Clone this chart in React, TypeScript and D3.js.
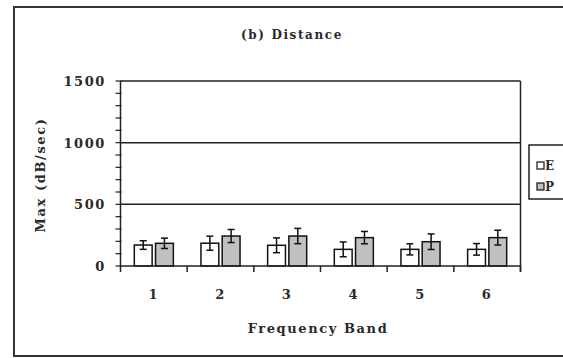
import React from 'react';
import * as d3 from 'd3';

const bands = ['1', '2', '3', '4', '5', '6'];
const seriesKeys = ['E', 'P'];
const eValues = [170, 185, 168, 135, 135, 135];
const eErrors = [35, 57, 60, 60, 45, 47];
const pValues = [184, 243, 243, 230, 197, 230];
const pErrors = [42, 53, 62, 50, 63, 60];
const yTicks = [0, 500, 1000, 1500];
const yMinorTicks = d3.range(0, 1501, 100);

const seriesColors: Record<string, string> = { E: '#ffffff', P: '#c0c0c0' };
const FONT = '"DejaVu Serif", "Liberation Serif", serif';

const W = 563;
const H = 358;
const plot = { left: 120.5, right: 520.5, top: 81, bottom: 266 };

export default function App() {
  const x0 = d3
    .scaleBand<string>()
    .domain(bands)
    .range([plot.left, plot.right])
    .paddingInner(0.414)
    .paddingOuter(0.207);
  const x1 = d3
    .scaleBand<string>()
    .domain(seriesKeys)
    .range([0, x0.bandwidth()])
    .paddingInner(0.16);
  const y = d3.scaleLinear().domain([0, 1500]).range([plot.bottom, plot.top]);

  const step = x0.step();
  const boundaries = d3.range(bands.length + 1).map(i => plot.left + i * step);

  const rows = bands.map((b, i) => ({
    band: b,
    items: [
      { key: 'E', value: eValues[i], err: eErrors[i] },
      { key: 'P', value: pValues[i], err: pErrors[i] },
    ],
  }));

  const textStyle = {
    fontFamily: FONT,
    fontSize: 13,
    fontWeight: 'bold' as const,
    fill: '#2a2a2a',
    letterSpacing: 1.6,
  };

  return (
    <svg
      width={W}
      height={H}
      style={{ position: 'absolute', left: 0, top: 0, background: '#fff' }}
    >
      {/* outer chart frame, right side runs off the image */}
      <rect x={14} y={7} width={W} height={349} fill="#fff" stroke="#333" strokeWidth={2} />

      <text x={292} y={39} textAnchor="middle" {...textStyle} fontSize={12}>
        (b) Distance
      </text>

      {/* gridlines */}
      {yTicks.slice(1).map(t => (
        <line key={t} x1={plot.left} x2={plot.right} y1={y(t)} y2={y(t)} stroke="#222" strokeWidth={1.5} />
      ))}
      <line x1={plot.right} x2={plot.right} y1={plot.top} y2={plot.bottom + 6} stroke="#222" strokeWidth={1.5} />

      {/* bars */}
      {rows.map(r => (
        <g key={r.band} transform={`translate(${x0(r.band)},0)`}>
          {r.items.map(d => {
            const bx = x1(d.key)!;
            const cx = bx + x1.bandwidth() / 2;
            return (
              <g key={d.key}>
                <rect
                  x={bx}
                  y={y(d.value)}
                  width={x1.bandwidth()}
                  height={plot.bottom - y(d.value)}
                  fill={seriesColors[d.key]}
                  stroke="#111"
                  strokeWidth={1.5}
                />
                <line x1={cx} x2={cx} y1={y(d.value + d.err)} y2={y(d.value - d.err)} stroke="#111" strokeWidth={1.5} />
                <line x1={cx - 3.5} x2={cx + 3.5} y1={y(d.value + d.err)} y2={y(d.value + d.err)} stroke="#111" strokeWidth={1.5} />
                <line x1={cx - 3.5} x2={cx + 3.5} y1={y(d.value - d.err)} y2={y(d.value - d.err)} stroke="#111" strokeWidth={1.5} />
              </g>
            );
          })}
        </g>
      ))}

      {/* y axis */}
      <line x1={plot.left} x2={plot.left} y1={plot.top} y2={plot.bottom} stroke="#222" strokeWidth={1.5} />
      {yMinorTicks.map(t => (
        <line key={t} x1={plot.left - 5} x2={plot.left + 1} y1={y(t)} y2={y(t)} stroke="#222" strokeWidth={1.2} />
      ))}
      {yTicks.map(t => (
        <text key={t} x={106} y={y(t) + 5} textAnchor="end" {...textStyle}>
          {t}
        </text>
      ))}

      {/* x axis */}
      <line x1={plot.left} x2={plot.right} y1={plot.bottom} y2={plot.bottom} stroke="#222" strokeWidth={1.5} />
      {boundaries.map((bx, i) => (
        <line key={i} x1={bx} x2={bx} y1={plot.bottom} y2={plot.bottom + 6} stroke="#222" strokeWidth={1.5} />
      ))}
      {bands.map(b => (
        <text key={b} x={x0(b)! + x0.bandwidth() / 2} y={299} textAnchor="middle" {...textStyle}>
          {b}
        </text>
      ))}

      <text x={318} y={333} textAnchor="middle" {...textStyle}>
        Frequency Band
      </text>
      <text transform={`translate(45,175) rotate(-90)`} textAnchor="middle" {...textStyle}>
        Max (dB/sec)
      </text>

      {/* legend */}
      <rect x={529} y={145} width={50} height={54} fill="#fff" stroke="#222" strokeWidth={1.5} />
      {seriesKeys.map((k, i) => (
        <g key={k} transform={`translate(537,${162 + i * 21})`}>
          <rect x={0} y={0} width={7} height={7} fill={seriesColors[k]} stroke="#111" strokeWidth={1.2} />
          <text x={8} y={8} {...textStyle} fontSize={12} letterSpacing={0}>
            {k}
          </text>
        </g>
      ))}
    </svg>
  );
}
